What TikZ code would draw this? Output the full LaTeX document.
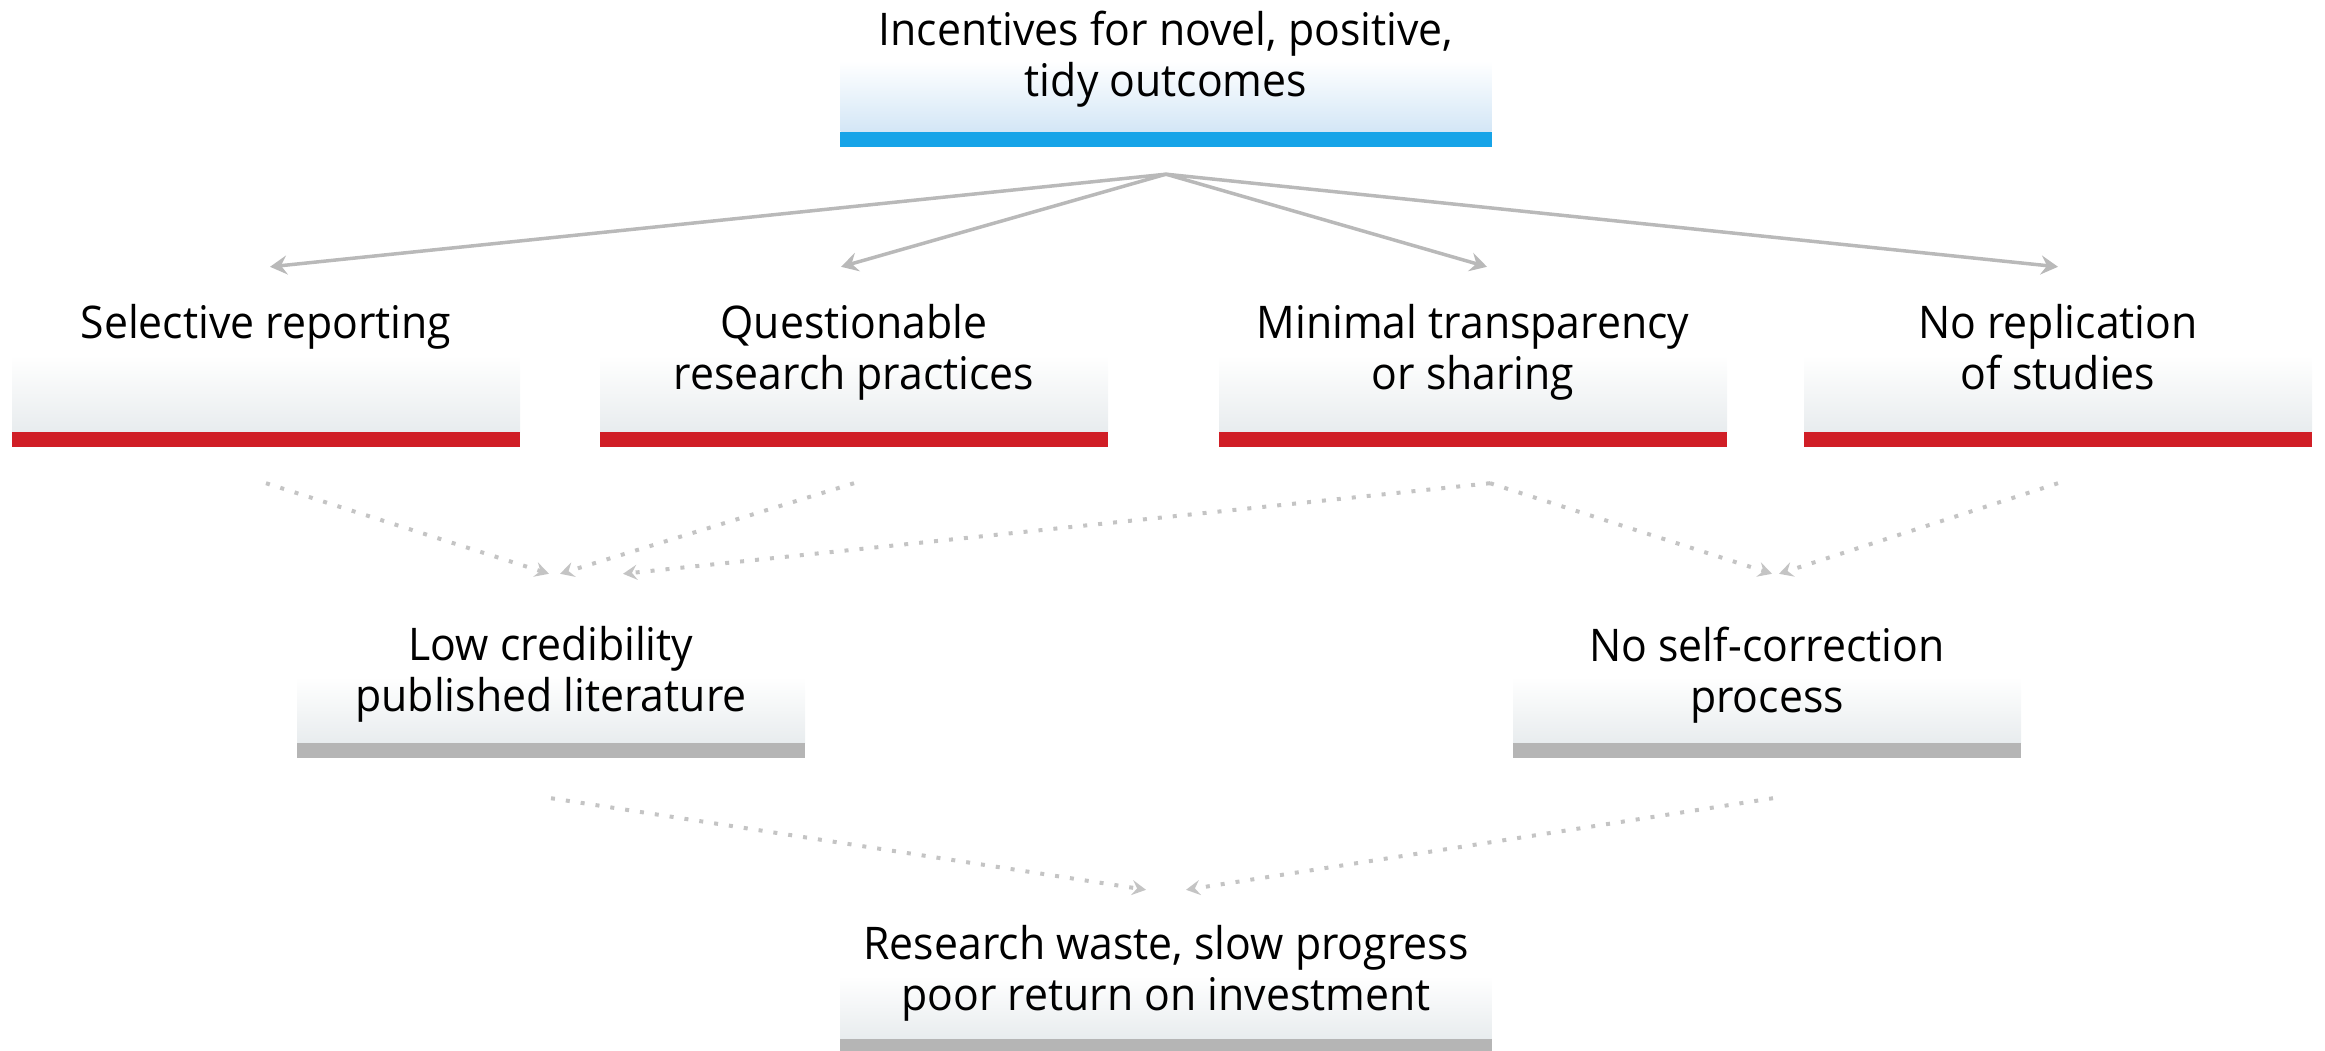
\documentclass[tikz,border=0pt]{standalone}
\usepackage{fontspec}
\setmainfont{Open Sans}[FakeStretch=0.95]
\usepackage{tikz}
\usetikzlibrary{arrows.meta, positioning}

\definecolor{barblue}{HTML}{17A4E8}
\definecolor{barred}{HTML}{D01E26}
\definecolor{bargray}{HTML}{B5B5B5}
\definecolor{cardgray}{HTML}{E8ECEE}
\definecolor{cardblue}{HTML}{D3E6F6}
\definecolor{linegray}{HTML}{B9B9B9}
\definecolor{dotgray}{HTML}{C4C4C4}

\begin{document}
\begin{tikzpicture}[
    x=1pt, y=-1pt,
    card/.style={rectangle, inner sep=0pt, align=center, top color=white, bottom color=cardgray, middle color=white, font=\fontsize{45}{51}\selectfont},
    widecard/.style={card, minimum width=651pt},
    narrowcard/.style={card, minimum width=508pt},
    arrow/.style={-{Stealth[length=17pt, width=19pt, inset=6pt]}, line width=3.5pt, linegray},
    dotarrow/.style={-{Stealth[length=14pt, width=15pt, inset=5pt]}, line width=4pt, dotgray, dash pattern=on 4pt off 11pt}
]
\useasboundingbox (0,0) rectangle (2325,1051);

% incentives
\node[widecard, minimum height=142pt, bottom color=cardblue, middle color=white] (top) at (1166,61) {Incentives for novel, positive,\\tidy outcomes\strut};

% practices
\node[narrowcard, minimum height=154pt] (sel) at (266,355) {Selective reporting\\\strut};
\node[narrowcard, minimum height=154pt] (qrp) at (854,355) {Questionable\\research practices\strut};
\node[narrowcard, minimum height=154pt] (min) at (1473,355) {Minimal transparency\\or sharing\strut};
\node[narrowcard, minimum height=154pt] (norep) at (2058,355) {No replication\\of studies\strut};

% consequences
\node[narrowcard, minimum height=132pt] (low) at (551,677) {Low credibility\\published literature\strut};
\node[narrowcard, minimum height=132pt] (noself) at (1767,677) {No self-correction\\process\strut};
\node[widecard, minimum height=126pt] (waste) at (1166,976) {Research waste, slow progress\\poor return on investment\strut};

% coloured bars under the cards
\foreach \n/\c in {top/barblue, sel/barred, qrp/barred, min/barred, norep/barred, low/bargray, noself/bargray, waste/bargray}
    \fill[\c] (\n.south west) rectangle ([yshift=-15pt]\n.south east);

\coordinate (fork) at ([yshift=-42pt]top.south);
\draw[arrow] (fork) -- ([xshift=4pt,yshift=11pt]sel.north);
\draw[arrow] (fork) -- ([xshift=-13pt,yshift=11pt]qrp.north);
\draw[arrow] (fork) -- ([xshift=14pt,yshift=11pt]min.north);
\draw[arrow] (fork) -- ([yshift=11pt]norep.north);

\draw[dotarrow] ([yshift=-51pt]sel.south) -- ([xshift=-2pt,yshift=37pt]low.north);
\draw[dotarrow] ([yshift=-51pt]qrp.south) -- ([xshift=9pt,yshift=37pt]low.north);
\draw[dotarrow] ([xshift=17pt,yshift=-51pt]min.south) -- ([xshift=72pt,yshift=37pt]low.north);
\draw[dotarrow] ([xshift=17pt,yshift=-51pt]min.south) -- ([xshift=5pt,yshift=37pt]noself.north);
\draw[dotarrow] ([yshift=-51pt]norep.south) -- ([xshift=12pt,yshift=37pt]noself.north);

\draw[dotarrow] ([yshift=-55pt]low.south) -- ([xshift=-20pt,yshift=23pt]waste.north);
\draw[dotarrow] ([xshift=6pt,yshift=-55pt]noself.south) -- ([xshift=20pt,yshift=23pt]waste.north);
\end{tikzpicture}
\end{document}
